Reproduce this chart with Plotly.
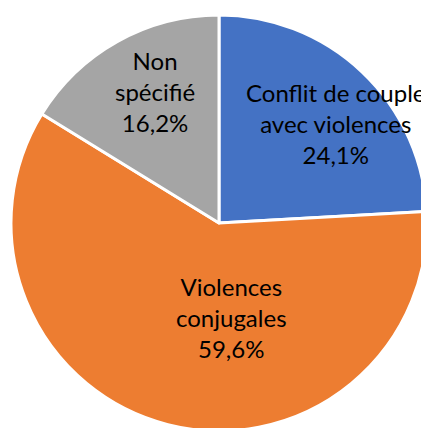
import plotly.graph_objects as go

categories = ["Conflit de couple<br>avec violences", "Violences<br>conjugales", "Non<br>spécifié"]
values = [24.1, 59.6, 16.2]
colors = ["#4472C4", "#ED7D31", "#A5A5A5"]

# label anchor positions in paper coordinates (layout only)
label_pos = [(0.781, 0.739), (0.531, 0.274), (0.346, 0.817)]

texts = [f"{c}<br>{str(v).replace('.', ',')}%" for c, v in zip(categories, values)]

fig = go.Figure(go.Pie(
    labels=categories,
    values=values,
    textinfo="none",
    sort=False,
    direction="clockwise",
    rotation=0,
    marker=dict(colors=colors, line=dict(color="white", width=3)),
    hoverinfo="skip",
))
for t, (x, y) in zip(texts, label_pos):
    fig.add_annotation(
        x=x, y=y, xref="paper", yref="paper", text=t, showarrow=False,
        font=dict(family="Lato", size=24, color="black"),
        xanchor="center", yanchor="middle", align="center",
    )
fig.update_layout(
    width=429, height=428,
    margin=dict(l=3, r=10, t=7, b=5),
    showlegend=False,
    paper_bgcolor="white",
)
fig.write_html("out.html")
